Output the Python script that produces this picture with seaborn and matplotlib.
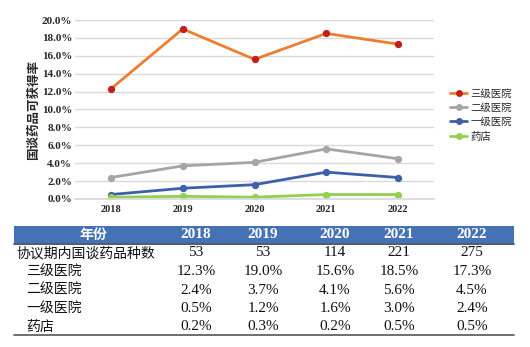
import matplotlib
matplotlib.use("Agg")
import matplotlib.pyplot as plt
import seaborn as sns
import pandas as pd
from matplotlib.lines import Line2D
from matplotlib.patches import Rectangle

years = ["2018", "2019", "2020", "2021", "2022"]
drug_counts = [53, 53, 114, 221, 275]
tier3 = [12.3, 19.0, 15.6, 18.5, 17.3]
tier2 = [2.4, 3.7, 4.1, 5.6, 4.5]
tier1 = [0.5, 1.2, 1.6, 3.0, 2.4]
pharmacy = [0.2, 0.3, 0.2, 0.5, 0.5]
series_names = ["三级医院", "二级医院", "一级医院", "药店"]
y_ticks = [0, 2, 4, 6, 8, 10, 12, 14, 16, 18, 20]

sns.set_theme(style="white")
plt.rcParams['font.family'] = ['Noto Sans CJK SC', 'DejaVu Sans']

W, H = 530, 347
fig = plt.figure(figsize=(W / 100, H / 100), dpi=100)

def px_axes(x0, y0, x1, y1):
    return fig.add_axes([x0 / W, 1 - y1 / H, (x1 - x0) / W, (y1 - y0) / H])

ax = px_axes(75, 20, 434, 199)

df = pd.DataFrame({
    "year": years * 4,
    "value": tier3 + tier2 + tier1 + pharmacy,
    "series": sum([[n] * 5 for n in series_names], []),
})
line_colors = {"三级医院": "#ED7D31", "二级医院": "#A5A5A5", "一级医院": "#3E5FAA", "药店": "#92D050"}
marker_colors = {"三级医院": "#C0201A", "二级医院": "#A5A5A5", "一级医院": "#3E5FAA", "药店": "#92D050"}

for name in series_names:
    sub = df[df["series"] == name]
    sns.lineplot(data=sub, x="year", y="value", ax=ax, color=line_colors[name],
                 linewidth=2.0, marker="o", markersize=4.5,
                 markerfacecolor=marker_colors[name], markeredgecolor=marker_colors[name],
                 sort=False, legend=False)

ax.set_xlim(-0.5, 4.5)
ax.set_ylim(0, 20)
ax.set_yticks(y_ticks)
ax.set_yticklabels([f"{v:.1f}%" for v in y_ticks], fontsize=8, fontweight="bold",
                   family="Liberation Serif")
ax.set_xticks(range(5))
ax.set_xticklabels(years, fontsize=7.5, fontweight="bold", family="Liberation Serif")
ax.grid(axis="y", color="#D9D9D9", linewidth=1.0)
ax.set_axisbelow(True)
for s in ["top", "right", "left"]:
    ax.spines[s].set_visible(False)
ax.spines["bottom"].set_color("#D9D9D9")
ax.tick_params(axis="y", length=0, pad=2)
ax.tick_params(axis="x", length=0, pad=4)
ax.set_xlabel("")
ax.set_ylabel("国谈药品可获得率", fontsize=9, fontweight="bold", labelpad=1.5)

handles = [Line2D([0], [0], color=line_colors[n], lw=2, marker="o", markersize=4,
                  markerfacecolor=marker_colors[n], markeredgecolor=marker_colors[n])
           for n in series_names]
leg = fig.legend(handles, series_names, loc="upper left",
                 bbox_to_anchor=(441 / W, 1 - 79 / H), frameon=False,
                 fontsize=7.5, handlelength=1.6, handletextpad=0.3, labelspacing=0.42)

# Table
tax = px_axes(0, 0, W, H)
tax.set_xlim(0, W)
tax.set_ylim(H, 0)
tax.axis("off")

left, right = 14, 514
tax.add_patch(Rectangle((left, 226), right - left, 17, facecolor="#4472B4", edgecolor="none"))
tax.plot([left, right], [243.5, 243.5], color="#2F3E55", lw=1.2)
tax.plot([left, right], [335, 335], color="#555555", lw=1.2)

col_x = [196, 263, 335, 399, 472]
hdr_y = 234.5
tax.text(93, hdr_y, "年份", ha="center", va="center", color="white", fontsize=10, fontweight="bold")
for x, y in zip(col_x, years):
    tax.text(x, hdr_y, y, ha="center", va="center", color="white", fontsize=11,
             fontweight="bold", family="Liberation Serif")

row_y = [253, 271.5, 290, 309, 327]
labels = ["协议期内国谈药品种数"] + series_names
label_x = [16, 26, 26, 26, 26]
values = [[str(v) for v in drug_counts]] + [[f"{v:.1f}%" for v in s] for s in (tier3, tier2, tier1, pharmacy)]
for y, lab, lx, vals in zip(row_y, labels, label_x, values):
    tax.text(lx, y, lab, ha="left", va="center", fontsize=10, color="#111111")
    for x, v in zip(col_x, vals):
        tax.text(x, y, v, ha="center", va="center", fontsize=11, family="Liberation Serif",
                 color="#111111")

fig.savefig("out.png", dpi=100)
